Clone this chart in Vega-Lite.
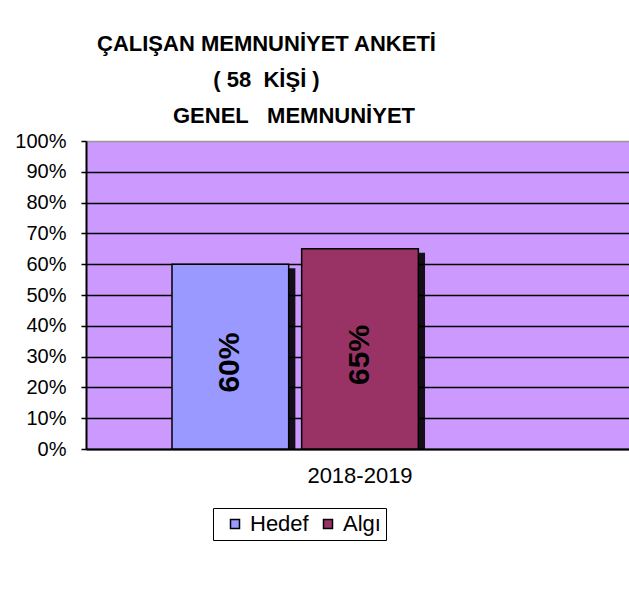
{
  "$schema": "https://vega.github.io/schema/vega-lite/v6.json",
  "width": 543,
  "height": 308,
  "autosize": {"type": "none"},
  "padding": {"left": 86, "top": 141, "right": 0, "bottom": 156},
  "background": "white",
  "title": {
    "text": ["ÇALIŞAN MEMNUNİYET ANKETİ", "( 58\u00a0\u00a0KİŞİ )", "\u200b\u00a0\u00a0\u00a0\u00a0\u00a0\u00a0\u00a0\u00a0\u00a0GENEL\u00a0\u00a0\u00a0MEMNUNİYET"],
    "font": "Liberation Sans",
    "fontSize": 22,
    "fontWeight": "bold",
    "lineHeight": 36,
    "anchor": "middle",
    "frame": "group",
    "dx": -91,
    "offset": 3,
    "color": "black"
  },
  "data": {
    "values": [
      {"yil": "2018-2019", "seri": "Hedef", "deger": 0.60},
      {"yil": "2018-2019", "seri": "Algı", "deger": 0.65}
    ]
  },
  "encoding": {
    "xOffset": {
      "field": "seri",
      "type": "nominal",
      "scale": {"domain": ["Hedef", "Algı", "_"], "paddingInner": 0.1, "paddingOuter": 0}
    }
  },
  "layer": [
    {
      "mark": {"type": "bar", "color": "black", "opacity": 0.9, "yOffset": 4, "y2Offset": 0},
      "encoding": {
        "x": {
          "field": "yil",
          "type": "nominal",
          "scale": {"paddingInner": 0, "paddingOuter": 0.222, "align": 0.555},
          "axis": null
        },
        "y": {"field": "deger", "type": "quantitative", "scale": {"domain": [0, 1]}, "axis": null},
        "y2": {"datum": 0}
      }
    },
    {
      "mark": {"type": "bar", "stroke": "black", "strokeWidth": 1.5},
      "encoding": {
        "x": {
          "field": "yil",
          "type": "nominal",
          "title": null,
          "scale": {"paddingInner": 0, "paddingOuter": 0.222, "align": 0.515},
          "axis": {
            "labelFont": "Liberation Sans",
            "labelFontSize": 22,
            "labelColor": "black",
            "labelAngle": 0,
            "ticks": false,
            "tickSize": 0,
            "labelPadding": 16,
            "domainColor": "black",
            "domainWidth": 2
          }
        },
        "y": {
          "field": "deger",
          "type": "quantitative",
          "title": null,
          "scale": {"domain": [0, 1]},
          "axis": {
            "values": [0, 0.1, 0.2, 0.3, 0.4, 0.5, 0.6, 0.7, 0.8, 0.9, 1],
            "format": ".0%",
            "labelFont": "Liberation Sans",
            "labelFontSize": 20,
            "labelColor": "black",
            "domainColor": "black",
            "domainWidth": 2,
            "tickColor": "black",
            "tickSize": 5,
            "tickWidth": 1.5,
            "labelPadding": 15,
            "grid": true,
            "gridColor": {"condition": {"test": "datum.value >= 1", "value": "#999999"}, "value": "black"},
            "gridWidth": 1.5
          }
        },
        "color": {
          "field": "seri",
          "type": "nominal",
          "scale": {"domain": ["Hedef", "Algı"], "range": ["#9999FF", "#993366"]},
          "legend": {
            "title": null,
            "orient": "none",
            "legendX": 127,
            "legendY": 367,
            "direction": "horizontal",
            "strokeColor": "black",
            "padding": 5,
            "symbolType": "square",
            "symbolSize": 81,
            "symbolStrokeColor": "black",
            "symbolStrokeWidth": 1.5,
            "symbolOpacity": 1,
            "labelFont": "Liberation Sans",
            "labelFontSize": 22,
            "labelColor": "black",
            "labelOffset": 4,
            "columnPadding": 2,
            "symbolOffset": 6
          }
        }
      }
    },
    {
      "mark": {"type": "text", "angle": 270, "font": "Liberation Sans", "fontSize": 30, "fontWeight": "bold", "color": "black", "align": "center", "baseline": "middle", "dx": -6},
      "encoding": {
        "x": {
          "field": "yil",
          "type": "nominal",
          "scale": {"paddingInner": 0, "paddingOuter": 0.222, "align": 0.515},
          "axis": null
        },
        "y": {"field": "deger", "type": "quantitative", "scale": {"domain": [0, 2]}, "axis": null},
        "text": {"field": "deger", "type": "quantitative", "format": ".0%"}
      }
    }
  ],
  "resolve": {"scale": {"y": "independent", "x": "independent"}},
  "config": {
    "view": {"fill": "#CC99FF", "stroke": null}
  }
}
